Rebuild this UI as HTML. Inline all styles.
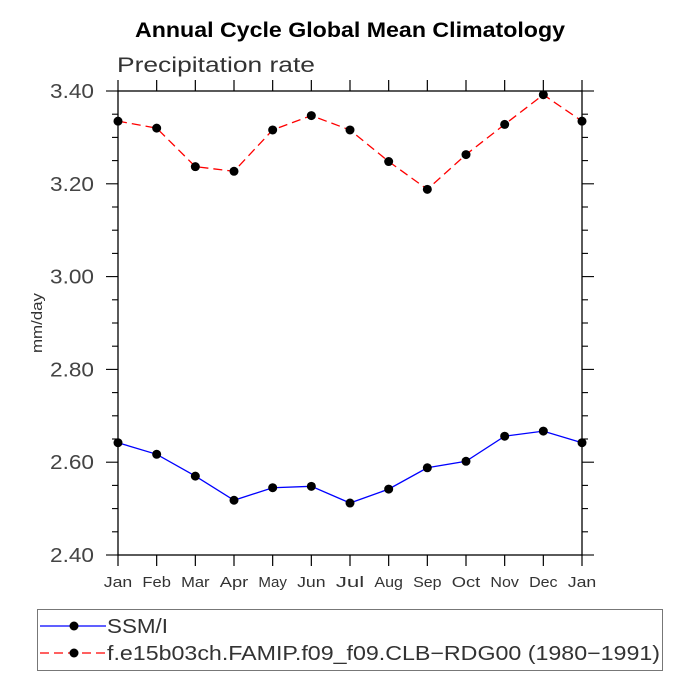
<!DOCTYPE html>
<html><head><meta charset="utf-8"><style>
html,body{margin:0;padding:0;background:#fff;width:689px;height:689px;overflow:hidden}
svg{display:block}
text{font-family:"Liberation Sans","DejaVu Sans",sans-serif}
</style></head><body>
<svg id="chart" width="689" height="689">
<text x="135" y="37" font-size="21" font-weight="bold" textLength="430" lengthAdjust="spacingAndGlyphs">Annual Cycle Global Mean Climatology</text>
<text x="117" y="72" font-size="21" fill="#333" textLength="198" lengthAdjust="spacingAndGlyphs">Precipitation rate</text>
<text x="42" y="323" font-size="15" fill="#333" text-anchor="middle" transform="rotate(-90 42 323)" textLength="60" lengthAdjust="spacingAndGlyphs">mm/day</text>
<g id="axes"></g>
<g id="series"></g>
<rect x="37.5" y="609.5" width="625" height="61" fill="none" stroke="#777"/>
<g>
<line x1="40" y1="626" x2="106" y2="626" stroke="#00f" stroke-width="1.3"/>
<circle cx="74" cy="626" r="4.5"/>
<text x="107" y="633" font-size="20" fill="#333" textLength="61" lengthAdjust="spacingAndGlyphs">SSM/I</text>
</g>
<g>
<line x1="40" y1="653" x2="106" y2="653" stroke="#f00" stroke-width="1.3" stroke-dasharray="9,5"/>
<circle cx="74" cy="653" r="4.5"/>
<text x="107" y="660" font-size="20" fill="#333" textLength="553" lengthAdjust="spacingAndGlyphs">f.e15b03ch.FAMIP.f09_f09.CLB−RDG00 (1980−1991)</text>
</g>
</svg>
<script>
const months=["Jan","Feb","Mar","Apr","May","Jun","Jul","Aug","Sep","Oct","Nov","Dec","Jan"];
const ssmi=[2.642,2.617,2.570,2.518,2.545,2.548,2.512,2.542,2.588,2.602,2.656,2.667,2.642];
const model=[3.335,3.320,3.237,3.227,3.316,3.347,3.316,3.248,3.188,3.263,3.328,3.392,3.335];
const yTicks=[2.40,2.60,2.80,3.00,3.20,3.40];
const yTickLabels=["2.40","2.60","2.80","3.00","3.20","3.40"];
const L=118,R=582,T=91,B=555,ymin=2.4,ymax=3.4;
const xs=i=>L+(R-L)*i/(months.length-1);
const ys=v=>B-(B-T)*(v-ymin)/(ymax-ymin);
const NS="http://www.w3.org/2000/svg";
const ax=document.getElementById('axes'),se=document.getElementById('series');
function mk(tag,attrs,parent){const e=document.createElementNS(NS,tag);for(const k in attrs)e.setAttribute(k,attrs[k]);parent.appendChild(e);return e;}
const frame=mk('rect',{x:L,y:T,width:R-L,height:B-T,fill:'none',stroke:'#000','stroke-width':1.3},ax);


months.forEach((m,i)=>{
  const x=xs(i);
  mk('line',{x1:x,y1:B,x2:x,y2:B+11,stroke:'#000','stroke-width':1.2},ax);
  mk('line',{x1:x,y1:T,x2:x,y2:T-11,stroke:'#000','stroke-width':1.2},ax);
  const t=mk('text',{x:x,y:B+32,'text-anchor':'middle','font-size':15,fill:'#333',textLength:m.length*9.5,lengthAdjust:'spacingAndGlyphs'},ax);
  t.textContent=m;
  
  
});
for(let v=ymin;v<=ymax+1e-9;v+=0.05){
  const y=ys(v);const major=Math.abs((v-ymin)/0.2-Math.round((v-ymin)/0.2))<1e-6;
  const len=major?12:6;
  mk('line',{x1:L-len,y1:y,x2:L,y2:y,stroke:'#000','stroke-width':1.1},ax);
  mk('line',{x1:R,y1:y,x2:R+len,y2:y,stroke:'#000','stroke-width':1.1},ax);
}
yTicks.forEach((v,i)=>{
  const t=mk('text',{x:94,y:ys(v)+7,'text-anchor':'end','font-size':20,fill:'#444',textLength:44,lengthAdjust:'spacingAndGlyphs'},ax);
  t.textContent=yTickLabels[i];
  
  
});
function draw(data,color,dash,name){
  const pl=mk('polyline',{points:data.map((v,i)=>xs(i)+','+ys(v)).join(' '),fill:'none',stroke:color,'stroke-width':1.3,'stroke-dasharray':dash},se);
  
  
  data.forEach((v,i)=>{
    const c=mk('circle',{cx:xs(i),cy:ys(v),r:4.5,fill:'#000'},se);
    
    
  });
}
draw(model,'#f00','9,5','model');
draw(ssmi,'#00f','none','ssmi');
</script>
</body></html>
